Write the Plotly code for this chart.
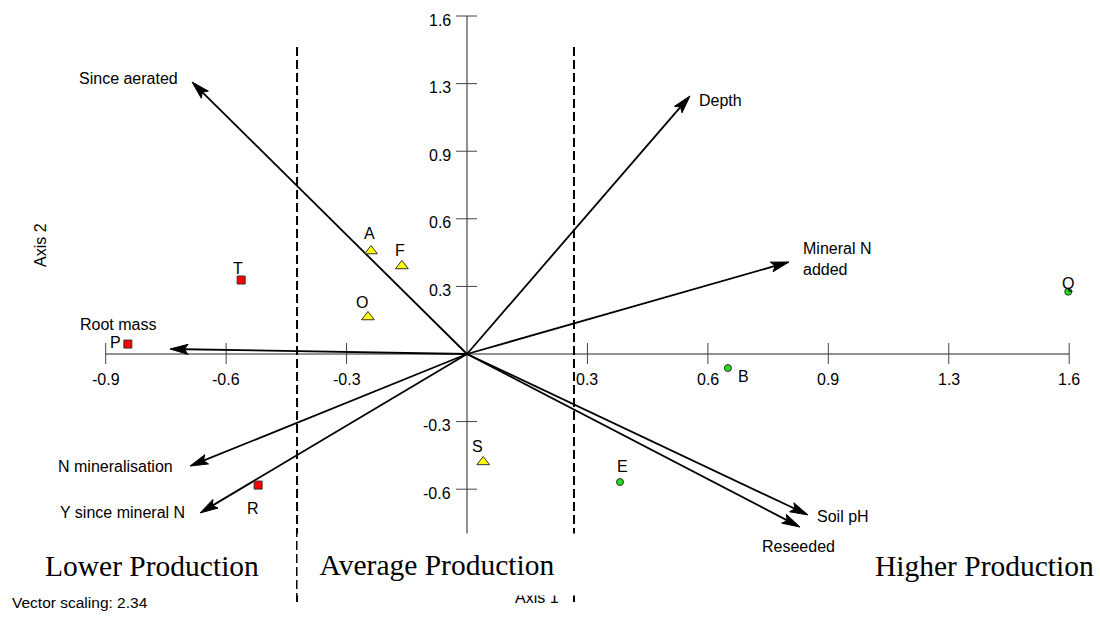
import math
import plotly.graph_objects as go

# ---- site scores (axis 1, axis 2) ----
site_names = ["P", "T", "R", "A", "F", "O", "S", "E", "B", "Q"]
site_ax1 = [-0.880, -0.586, -0.542, -0.249, -0.169, -0.257, 0.042, 0.397, 0.677, 1.560]
site_ax2 = [0.046, 0.342, -0.606, 0.476, 0.407, 0.171, -0.499, -0.592, -0.065, 0.288]
site_group = ["low", "low", "low", "avg", "avg", "avg", "avg", "high", "high", "high"]

# ---- environmental vectors (already multiplied by the vector scaling) ----
vec_names = ["Since aerated", "Depth", "Mineral N<br>added", "Root mass",
             "N mineralisation", "Y since mineral N", "Soil pH", "Reseeded"]
vec_ax1 = [-0.7135, 0.5786, 0.8355, -0.7706, -0.7187, -0.6928, 0.8848, 0.8640]
vec_ax2 = [1.2575, 1.1930, 0.4253, 0.0230, -0.5180, -0.7350, -0.7440, -0.8000]
vector_scaling = 2.34

# ---- axis ticks ----
x_ticks = [-0.9375, -0.625, -0.3125, 0.3125, 0.625, 0.9375, 1.25, 1.5625]
x_tick_labels = ["-0.9", "-0.6", "-0.3", "0.3", "0.6", "0.9", "1.3", "1.6"]
y_ticks = [1.5625, 1.25, 0.9375, 0.625, 0.3125, -0.3125, -0.625]
y_tick_labels = ["1.6", "1.3", "0.9", "0.6", "0.3", "-0.3", "-0.6"]

# production class boundaries on axis 1
boundaries = [-0.441, 0.2776]

# ---- page geometry ----
W, H = 1100, 619
OX, OY = 467.0, 354.0          # pixel position of the origin
SX, SY = 385.4, 216.3          # pixels per unit on each axis

SANS = "Liberation Sans, Arial, sans-serif"
SERIF = "Liberation Serif, Times New Roman, serif"
FS = 16


def xd(px):
    return (px - OX) / SX


def yd(py):
    return (OY - py) / SY


fig = go.Figure()

# axes drawn through the origin
shapes = []
shapes.append(dict(type="line", xref="x", yref="y", x0=x_ticks[0], x1=x_ticks[-1], y0=0, y1=0,
                   line=dict(color="#222", width=1), layer="below"))
shapes.append(dict(type="line", xref="x", yref="y", x0=0, x1=0, y0=y_ticks[0], y1=-0.9375,
                   line=dict(color="#222", width=1), layer="below"))
for t in x_ticks:
    shapes.append(dict(type="line", xref="x", yref="y", x0=t, x1=t, y0=11 / SY, y1=-10 / SY,
                       line=dict(color="#444", width=1), layer="below"))
for t in y_ticks:
    shapes.append(dict(type="line", xref="x", yref="y", x0=-11 / SX, x1=10 / SX, y0=t, y1=t,
                       line=dict(color="#444", width=1), layer="below"))
for b in boundaries:
    shapes.append(dict(type="line", xref="x", yref="y", x0=b, x1=b, y0=yd(47), y1=yd(605),
                       line=dict(color="black", width=2, dash="9px,4px"), layer="below"))

annotations = []
for t, lab in zip(x_ticks, x_tick_labels):
    annotations.append(dict(x=t, y=0, xref="x", yref="y", text=lab, showarrow=False,
                            xanchor="center", yanchor="middle", yshift=-25,
                            font=dict(family=SANS, size=FS, color="black")))
for t, lab in zip(y_ticks, y_tick_labels):
    annotations.append(dict(x=0, y=t, xref="x", yref="y", text=lab, showarrow=False,
                            xanchor="right", yanchor="middle", xshift=-14, yshift=-4,
                            font=dict(family=SANS, size=FS, color="black")))

# environmental vectors with filled arrow heads
head_len, head_half = 18.0, 5.0
for name, vx, vy in zip(vec_names, vec_ax1, vec_ax2):
    px, py = vx * SX, vy * SY
    n = math.hypot(px, py)
    ux, uy = px / n, py / n
    nx, ny = -uy, ux
    bx, by = px - head_len * ux, py - head_len * uy
    notch_x, notch_y = px - 0.8 * head_len * ux, py - 0.8 * head_len * uy
    fig.add_trace(go.Scatter(x=[0, notch_x / SX], y=[0, notch_y / SY], mode="lines",
                             line=dict(color="black", width=1.8), hoverinfo="skip",
                             showlegend=False))
    hx = [px, bx + head_half * nx, notch_x, bx - head_half * nx, px]
    hy = [py, by + head_half * ny, notch_y, by - head_half * ny, py]
    fig.add_trace(go.Scatter(x=[v / SX for v in hx], y=[v / SY for v in hy], mode="lines",
                             fill="toself", fillcolor="black", line=dict(color="black", width=1),
                             hoverinfo="skip", showlegend=False))

# vector label placement (pixel offsets from the arrow tip)
vec_label_pos = {
    "Since aerated": dict(xanchor="right", xshift=-12, yshift=4),
    "Depth": dict(xanchor="left", xshift=7, yshift=-5),
    "Mineral N<br>added": dict(xanchor="left", xshift=12, yshift=3),
    "Root mass": dict(xanchor="center", xshift=-52, yshift=25),
    "N mineralisation": dict(xanchor="right", xshift=-15, yshift=0),
    "Y since mineral N": dict(xanchor="right", xshift=-13, yshift=0),
    "Soil pH": dict(xanchor="left", xshift=7, yshift=-2),
    "Reseeded": dict(xanchor="center", xshift=-1, yshift=-19),
}
for name, vx, vy in zip(vec_names, vec_ax1, vec_ax2):
    annotations.append(dict(x=vx, y=vy, xref="x", yref="y", text=name, showarrow=False,
                            align="left", yanchor="middle",
                            font=dict(family=SANS, size=FS, color="black"),
                            **vec_label_pos[name]))

# site markers by production group
group_style = {
    "low": dict(symbol="square", size=8, color="#ff0000"),
    "avg": dict(symbol="triangle-up", size=11, color="#ffff00"),
    "high": dict(symbol="circle", size=7, color="#22dd22"),
}
for g, st in group_style.items():
    xs = [x for x, gg in zip(site_ax1, site_group) if gg == g]
    ys = [y for y, gg in zip(site_ax2, site_group) if gg == g]
    fig.add_trace(go.Scatter(x=xs, y=ys, mode="markers", showlegend=False, hoverinfo="skip",
                             marker=dict(symbol=st["symbol"], size=st["size"], color=st["color"],
                                         line=dict(color="#333", width=1))))

site_label_shift = {
    "P": (-12, 2), "T": (-3, 12), "R": (-5, -23), "A": (-2, 18), "F": (-2, 15),
    "O": (-6, 15), "S": (-6, 15), "E": (2, 16), "B": (16, -8), "Q": (0, 8),
}
for nm, x, y in zip(site_names, site_ax1, site_ax2):
    dx, dy = site_label_shift[nm]
    annotations.append(dict(x=x, y=y, xref="x", yref="y", text=nm, showarrow=False,
                            xanchor="center", yanchor="middle", xshift=dx, yshift=dy,
                            font=dict(family=SANS, size=FS, color="black")))


def page_text(px, py, text, **kw):
    base = dict(x=px / W, y=1 - py / H, xref="paper", yref="paper", text=text,
                showarrow=False, xanchor="center", yanchor="middle")
    base.update(kw)
    annotations.append(base)


# axis titles (the axis 1 title sits partly behind the middle caption box)
page_text(40, 245, "Axis 2", textangle=-90, font=dict(family=SANS, size=FS, color="black"))
page_text(537, 597, "Axis 1", font=dict(family=SANS, size=FS, color="black"))

# production class captions
page_text(152, 566, "Lower Production", font=dict(family=SERIF, size=29.5, color="black"))
page_text(437, 564.5, "Average Production", bgcolor="white", width=278, height=61,
          borderpad=0, font=dict(family=SERIF, size=29.5, color="black"))
page_text(984, 566, "Higher Production", font=dict(family=SERIF, size=29.5, color="black"))
page_text(10, 602, f"Vector scaling: {vector_scaling:.2f}", xanchor="left",
          font=dict(family=SANS, size=15.5, color="black"))

fig.update_layout(
    width=W, height=H,
    margin=dict(l=0, r=0, t=0, b=0),
    paper_bgcolor="white", plot_bgcolor="white",
    xaxis=dict(range=[xd(0), xd(W)], visible=False, fixedrange=True),
    yaxis=dict(range=[yd(H), yd(0)], visible=False, fixedrange=True),
    shapes=shapes, annotations=annotations,
    showlegend=False,
)

fig.write_html("out.html")
